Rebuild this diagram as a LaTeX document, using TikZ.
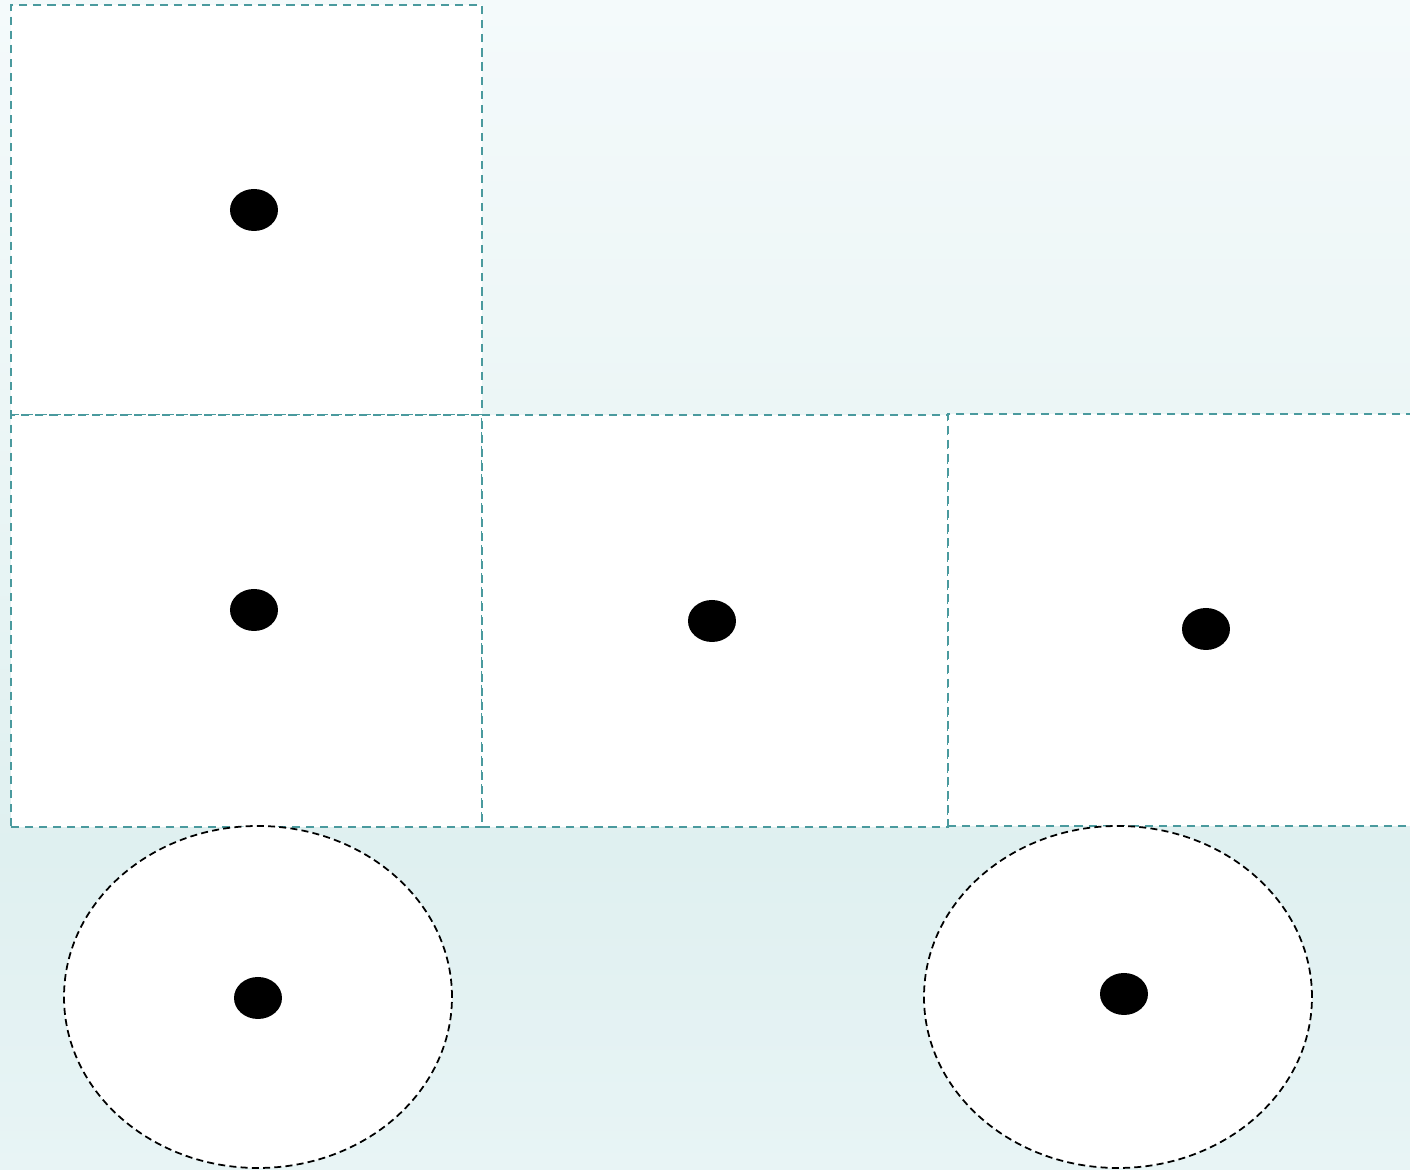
\documentclass[tikz,border=0pt]{standalone}
\usepackage{xcolor}
\usepackage{tikz}
\usetikzlibrary{positioning, shapes.geometric}

\definecolor{bgtop}{HTML}{F4FAFB}
\definecolor{bgupper}{HTML}{ECF6F6}
\definecolor{bgmid}{HTML}{DFF0F0}
\definecolor{bgbot}{HTML}{E8F4F5}
\definecolor{cellline}{HTML}{4A9A9E}

\pgfdeclareverticalshading{bgshade}{100bp}{color(0bp)=(bgbot); color(25bp)=(bgbot);
  color(38.7bp)=(bgmid); color(57.3bp)=(bgupper); color(75bp)=(bgtop); color(100bp)=(bgtop)}

\begin{document}
\begin{tikzpicture}[
      cell/.style={rectangle, draw=cellline, fill=white, line width=0.55pt,
        dash pattern=on 2.3pt off 1.7pt, inner sep=0pt},
      wheel/.style={ellipse, draw=black, fill=white, line width=0.5pt,
        dash pattern=on 2pt off 1.2pt, inner sep=0pt,
        minimum width=3.88cm, minimum height=3.42cm},
      dot/.style={ellipse, fill=black, inner sep=0pt,
        minimum width=0.48cm, minimum height=0.42cm}
    ]
      % background
      \useasboundingbox (0,0) rectangle (14.1,-11.7);
      \shade[shading=bgshade] (0,0) rectangle (14.1,-11.7);

      % cells
      \node[cell, minimum width=4.71cm, minimum height=4.10cm, anchor=north west] (topcell) at (0.10,-0.04) {};
      \node[cell, minimum width=4.71cm, minimum height=4.12cm, anchor=north west] (leftcell) at (0.10,-4.14) {};
      \node[cell, minimum width=4.66cm, minimum height=4.12cm, anchor=north west] (midcell) at (4.81,-4.14) {};
      \node[cell, minimum width=4.70cm, minimum height=4.12cm, anchor=north west] (rightcell) at (9.47,-4.13) {};

      % wheels
      \node[wheel] (leftwheel) at (2.58,-9.97) {};
      \node[wheel] (rightwheel) at (11.18,-9.97) {};

      % dots
      \node[dot] (topdot) at (2.54,-2.10) {};
      \node[dot] (leftdot) at (2.54,-6.10) {};
      \node[dot] (middot) at (7.12,-6.21) {};
      \node[dot] (rightdot) at (12.06,-6.29) {};
      \node[dot] (leftwheeldot) at (2.58,-9.98) {};
      \node[dot] (rightwheeldot) at (11.24,-9.94) {};
    \end{tikzpicture}
\end{document}
